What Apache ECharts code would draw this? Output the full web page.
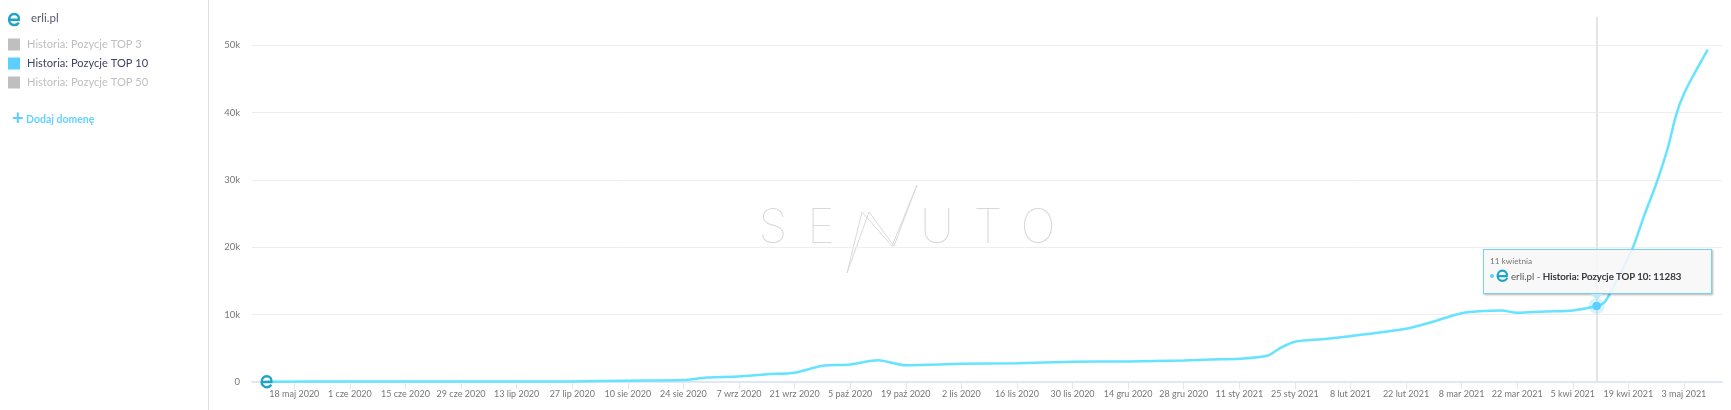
<!DOCTYPE html>
<html>
<head>
<meta charset="utf-8">
<title>erli.pl</title>
<style>
html, body { margin: 0; padding: 0; background: #fff; }
#myChart { width: 1731px; height: 410px; }
</style>
</head>
<body>
<div id="myChart"></div>
<script src="https://cdn.jsdelivr.net/npm/echarts@6/dist/echarts.min.js"></script>
<script>
var domainName = 'erli.pl';
var seriesNames = ['Historia: Pozycje TOP 3', 'Historia: Pozycje TOP 10', 'Historia: Pozycje TOP 50'];

var pointDates = ['2020-05-11','2020-06-01','2020-07-13','2020-07-27','2020-08-10','2020-08-24','2020-08-30','2020-09-07','2020-09-14','2020-09-21','2020-09-28','2020-10-05','2020-10-12','2020-10-19','2020-11-02','2020-11-16','2020-11-30','2020-12-14','2020-12-28','2021-01-04','2021-01-11','2021-01-18','2021-01-21','2021-01-25','2021-02-01','2021-02-08','2021-02-22','2021-03-01','2021-03-08','2021-03-15','2021-03-18','2021-03-22','2021-03-29','2021-04-05','2021-04-11','2021-04-13','2021-04-15','2021-04-20','2021-04-23','2021-04-26','2021-04-29','2021-05-01','2021-05-03','2021-05-06','2021-05-09'];
var top10Values = [50,60,70,80,200,300,670,820,1160,1370,2400,2600,3240,2500,2700,2800,3000,3050,3200,3340,3450,3890,4930,5970,6360,6810,7900,8990,10220,10580,10620,10280,10480,10620,11283,11860,13850,19790,24750,29400,34900,39600,42800,46200,49360];

var tickDates = ['2020-05-18','2020-06-01','2020-06-15','2020-06-29','2020-07-13','2020-07-27','2020-08-10','2020-08-24','2020-09-07','2020-09-21','2020-10-05','2020-10-19','2020-11-02','2020-11-16','2020-11-30','2020-12-14','2020-12-28','2021-01-11','2021-01-25','2021-02-08','2021-02-22','2021-03-08','2021-03-22','2021-04-05','2021-04-19','2021-05-03'];
var tickLabels = ['18 maj 2020','1 cze 2020','15 cze 2020','29 cze 2020','13 lip 2020','27 lip 2020','10 sie 2020','24 sie 2020','7 wrz 2020','21 wrz 2020','5 paź 2020','19 paź 2020','2 lis 2020','16 lis 2020','30 lis 2020','14 gru 2020','28 gru 2020','11 sty 2021','25 sty 2021','8 lut 2021','22 lut 2021','8 mar 2021','22 mar 2021','5 kwi 2021','19 kwi 2021','3 maj 2021'];
var yTicks = [0, 10000, 20000, 30000, 40000, 50000];
var tooltipIndex = pointDates.indexOf('2021-04-11');
var tooltipDateLabel = '11 kwietnia';

var lineColor = '#5ccfff';
var logoColor = '#1fa3c6';
var fontName = 'Lato, sans-serif';
var logoPath = 'M4 13H20C21 7 17 3 12 3C6 3 3 8 3 13C3 18 7 22 12 22C15 22 18 21 20 18';

function ts(d) { return new Date(d + 'T00:00:00Z').getTime(); }

var top10Data = pointDates.map(function (d, i) { return [ts(d), top10Values[i]]; });
var tickTimes = tickDates.map(ts);
var logoSymbol = { symbol: 'path://' + logoPath, symbolSize: [10, 11], itemStyle: { color: 'none', borderColor: logoColor, borderWidth: 2.4 } };

var myChart = echarts.init(document.getElementById('myChart'));
var option = {
    animation: false,
    textStyle: { fontFamily: fontName },
    color: ['#bcbcbc', lineColor, '#bcbcbc'],
    grid: { left: 252, right: 9, top: 17, bottom: 28 },
    legend: {
        orient: 'vertical',
        left: 8,
        top: 38.5,
        padding: 0,
        itemWidth: 12,
        itemHeight: 12,
        itemGap: 7,
        icon: 'rect',
        inactiveColor: '#bfbfbf',
        data: seriesNames,
        selected: { 'Historia: Pozycje TOP 3': false, 'Historia: Pozycje TOP 10': true, 'Historia: Pozycje TOP 50': false },
        textStyle: { color: '#3f4263', fontSize: 11.1, fontFamily: fontName, padding: [0, 0, 0, 2] }
    },
    tooltip: {
        trigger: 'axis',
        alwaysShowContent: true,
        axisPointer: { type: 'none' },
        padding: 0,
        borderWidth: 0,
        backgroundColor: 'transparent',
        extraCssText: 'box-shadow:none;',
        transitionDuration: 0,
        position: function () { return [1483, 249]; },
        formatter: function (params) {
            var p = params[0];
            return '<div style="position:relative;box-sizing:border-box;width:229px;height:45px;background:rgba(247,247,247,.88);border:1px solid #74d2f7;box-shadow:1px 1px 2px rgba(0,0,0,.3);font-family:Lato,sans-serif;">'
                + '<div style="position:absolute;left:6px;top:5px;font-size:8.2px;line-height:12px;color:#777;">' + tooltipDateLabel + '</div>'
                + '<div style="position:absolute;left:6px;top:24px;width:4px;height:4px;border-radius:50%;background:' + lineColor + ';"></div>'
                + '<svg style="position:absolute;left:12px;top:19px;" width="13" height="13" viewBox="0 0 24 24"><path d="' + logoPath + '" fill="none" stroke="' + logoColor + '" stroke-width="4" stroke-linecap="round"/></svg>'
                + '<div style="position:absolute;left:27px;top:19px;font-size:9.7px;line-height:14px;white-space:nowrap;color:#555;">' + domainName + ' - <span style="color:#2f3136;font-weight:500;-webkit-text-stroke:.2px #2f3136;">' + p.seriesName + ': ' + p.value[1] + '</span></div>'
                + '<div style="position:absolute;left:107px;top:44px;width:0;height:0;border-left:6px solid transparent;border-right:6px solid transparent;border-top:6px solid #bfe9fa;"></div>'
                + '</div>';
        }
    },
    xAxis: {
        type: 'value',
        scale: true,
        min: ts('2020-05-07') + 8 * 3600000,
        max: ts('2021-05-12') + 14 * 3600000,
        axisLine: { lineStyle: { color: '#dfe6f5', width: 2 } },
        axisTick: { show: true, length: 7, customValues: tickTimes, lineStyle: { color: '#dfe6f5', width: 1 } },
        axisLabel: {
            customValues: tickTimes,
            color: '#777',
            fontSize: 9,
            margin: 8,
            hideOverlap: false,
            formatter: function (v) { return tickLabels[tickTimes.indexOf(v)]; }
        },
        splitLine: { show: false }
    },
    yAxis: {
        type: 'value',
        min: 0,
        max: 54200,
        axisLine: { show: false },
        axisTick: { show: false, customValues: yTicks },
        axisLabel: {
            customValues: yTicks,
            color: '#777',
            fontSize: 9.5,
            margin: 12,
            formatter: function (v) { return v === 0 ? '0' : (v / 1000) + 'k'; }
        },
        splitLine: { show: true, lineStyle: { color: '#eeeeee', width: 1 } }
    },
    graphic: [
        { type: 'line', silent: true, shape: { x1: 208.5, y1: 0, x2: 208.5, y2: 410 }, style: { stroke: '#dcdcdc', lineWidth: 1 } },
        { type: 'text', silent: true, x: 31, y: 12, style: { text: domainName, fontSize: 11.5, fontFamily: fontName, fill: '#55586a' } },
        { type: 'text', silent: true, x: 12, y: 109, style: { text: '+', fontSize: 20, fontFamily: fontName, fontWeight: 'bold', fill: lineColor } },
        { type: 'text', silent: true, x: 26, y: 114, style: { text: 'Dodaj domenę', fontSize: 10.5, fontFamily: fontName, fontWeight: 'bold', fill: '#66d2ff' } },
        // znak wodny
        { type: 'text', silent: true, z: 0, x: 773, y: 229, style: { text: 'S', align: 'center', verticalAlign: 'middle', fontSize: 47, fontWeight: 100, fontFamily: 'Inter, Lato, sans-serif', fill: '#d9d9d9' } },
        { type: 'text', silent: true, z: 0, x: 821, y: 229, style: { text: 'E', align: 'center', verticalAlign: 'middle', fontSize: 47, fontWeight: 100, fontFamily: 'Inter, Lato, sans-serif', fill: '#d9d9d9' } },
        { type: 'polyline', silent: true, z: 0, shape: { points: [[847, 273], [862, 212], [892, 246], [917, 185]] }, style: { fill: 'none', stroke: '#d9d9d9', lineWidth: 1 } },
        { type: 'polyline', silent: true, z: 0, shape: { points: [[847, 273], [869, 212], [894, 246], [917, 185]] }, style: { fill: 'none', stroke: '#d9d9d9', lineWidth: 1 } },
        { type: 'text', silent: true, z: 0, x: 937, y: 229, style: { text: 'U', align: 'center', verticalAlign: 'middle', fontSize: 47, fontWeight: 100, fontFamily: 'Inter, Lato, sans-serif', fill: '#d9d9d9' } },
        { type: 'text', silent: true, z: 0, x: 988, y: 229, style: { text: 'T', align: 'center', verticalAlign: 'middle', fontSize: 47, fontWeight: 100, fontFamily: 'Inter, Lato, sans-serif', fill: '#d9d9d9' } },
        { type: 'text', silent: true, z: 0, x: 1038, y: 229, style: { text: 'O', align: 'center', verticalAlign: 'middle', fontSize: 47, fontWeight: 100, fontFamily: 'Inter, Lato, sans-serif', fill: '#d9d9d9' } }
    ],
    series: [
        { name: seriesNames[0], type: 'line', data: [] },
        {
            name: seriesNames[1],
            type: 'line',
            data: top10Data,
            smooth: 0.3,
            showSymbol: false,
            lineStyle: { color: lineColor, width: 2.5 },
            markLine: {
                silent: true,
                symbol: 'none',
                animation: false,
                label: { show: false },
                lineStyle: { color: '#e4e4e4', width: 2, type: 'solid' },
                data: [{ xAxis: top10Data[tooltipIndex][0] }]
            },
            markPoint: {
                silent: true,
                animation: false,
                label: { show: false },
                data: [
                    { coord: top10Data[tooltipIndex], symbol: 'circle', symbolSize: 16, itemStyle: { color: 'rgba(92,207,255,.25)' } },
                    { coord: top10Data[tooltipIndex], symbol: 'circle', symbolSize: 8, itemStyle: { color: lineColor } },
                    Object.assign({ coord: top10Data[0] }, logoSymbol),
                    Object.assign({ x: 14, y: 19.5 }, logoSymbol)
                ]
            }
        },
        { name: seriesNames[2], type: 'line', data: [] }
    ]
};
myChart.setOption(option);
myChart.dispatchAction({ type: 'showTip', seriesIndex: 1, dataIndex: tooltipIndex });
window.onresize = myChart.resize;
</script>
</body>
</html>
